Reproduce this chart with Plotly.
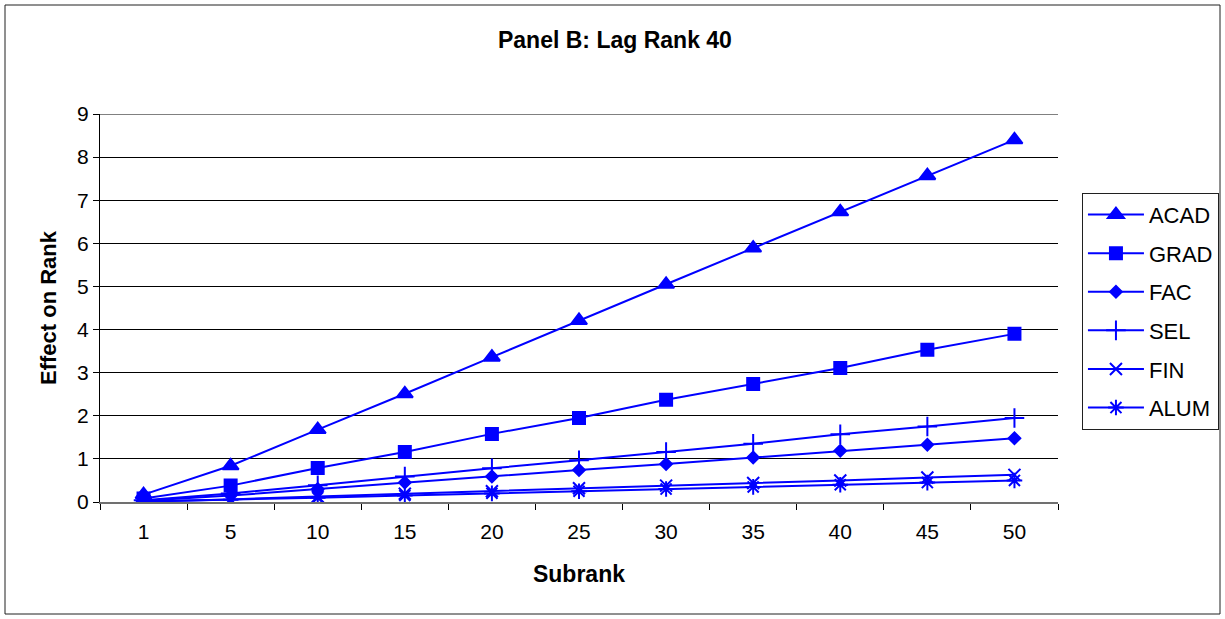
import plotly.graph_objects as go

# Subrank categories along the x axis
subrank = ["1", "5", "10", "15", "20", "25", "30", "35", "40", "45", "50"]

# Effect on rank for each component (lag rank 40)
acad = [0.17, 0.84, 1.68, 2.51, 3.36, 4.21, 5.05, 5.89, 6.73, 7.57, 8.40]
grad = [0.08, 0.38, 0.79, 1.16, 1.58, 1.95, 2.37, 2.74, 3.11, 3.53, 3.90]
fac = [0.03, 0.15, 0.30, 0.45, 0.59, 0.74, 0.88, 1.03, 1.19, 1.33, 1.48]
sel = [0.04, 0.20, 0.39, 0.59, 0.78, 0.97, 1.16, 1.35, 1.57, 1.75, 1.95]
fin = [0.01, 0.06, 0.13, 0.19, 0.25, 0.32, 0.38, 0.44, 0.50, 0.57, 0.63]
alum = [0.01, 0.05, 0.10, 0.15, 0.20, 0.25, 0.30, 0.35, 0.40, 0.45, 0.50]

BLUE = "#0000FF"
FONT = "Liberation Sans, Arial, sans-serif"

series = [
    ("ACAD", acad, "triangle-up", 14),
    ("GRAD", grad, "square", 12),
    ("FAC", fac, "diamond", 9),
    ("SEL", sel, "cross-thin-open", 14),
    ("FIN", fin, "x-thin-open", 12),
    ("ALUM", alum, "asterisk-open", 13),
]

fig = go.Figure()
for name, vals, sym, size in series:
    fig.add_trace(go.Scatter(
        x=subrank, y=vals, name=name, mode="lines+markers",
        legendgroup=name,
        line=dict(color=BLUE, width=2),
        marker=dict(symbol=sym, size=size, color=BLUE,
                    line=dict(color=BLUE, width=2)),
    ))

fig.update_layout(
    width=1225, height=619,
    margin=dict(l=100, r=167, t=114, b=117, autoexpand=False),
    paper_bgcolor="white", plot_bgcolor="white",
    font=dict(family=FONT, size=21, color="black"),
    title=dict(text="<b>Panel B: Lag Rank 40</b>", x=0.502, xanchor="center",
               y=0.935, yanchor="middle", font=dict(size=23, family=FONT)),
    showlegend=True,
    legend=dict(x=1.025, y=0.797, xanchor="left", yanchor="top",
                bordercolor="#202020", borderwidth=1, bgcolor="white",
                font=dict(size=22, family=FONT), tracegroupgap=7,
                traceorder="grouped", itemwidth=56),
)

fig.update_xaxes(
    type="category", range=[-0.5, 10.5],
    tickson="boundaries", ticks="outside", ticklen=6, tickcolor="black",
    showline=True, linecolor="#707070", linewidth=2,
    showgrid=False, zeroline=False, ticklabelstandoff=10,
    tickfont=dict(size=21, family=FONT),
    title=dict(text="<b>Subrank</b>", font=dict(size=23, family=FONT), standoff=24),
)
fig.update_yaxes(
    range=[0, 9], dtick=1, ticks="outside", ticklen=6, tickcolor="black",
    showline=True, linecolor="black", linewidth=1,
    showgrid=True, gridcolor="black", gridwidth=1, zeroline=False,
    tickfont=dict(size=21, family=FONT),
    title=dict(text="<b>Effect on Rank</b>", font=dict(size=22, family=FONT), standoff=14),
)

# Gray top edge of the plot area and the outer chart frame
fig.add_shape(type="line", xref="paper", yref="y", x0=0, x1=1, y0=9, y1=9,
              line=dict(color="#808080", width=2), layer="above")
fig.add_shape(type="rect", xref="paper", yref="paper",
              x0=(5 - 100) / 958, x1=(1220 - 100) / 958,
              y0=(502 - 614) / 388, y1=(502 - 5) / 388,
              line=dict(color="#202020", width=1), layer="below")

fig.write_html("out.html")
